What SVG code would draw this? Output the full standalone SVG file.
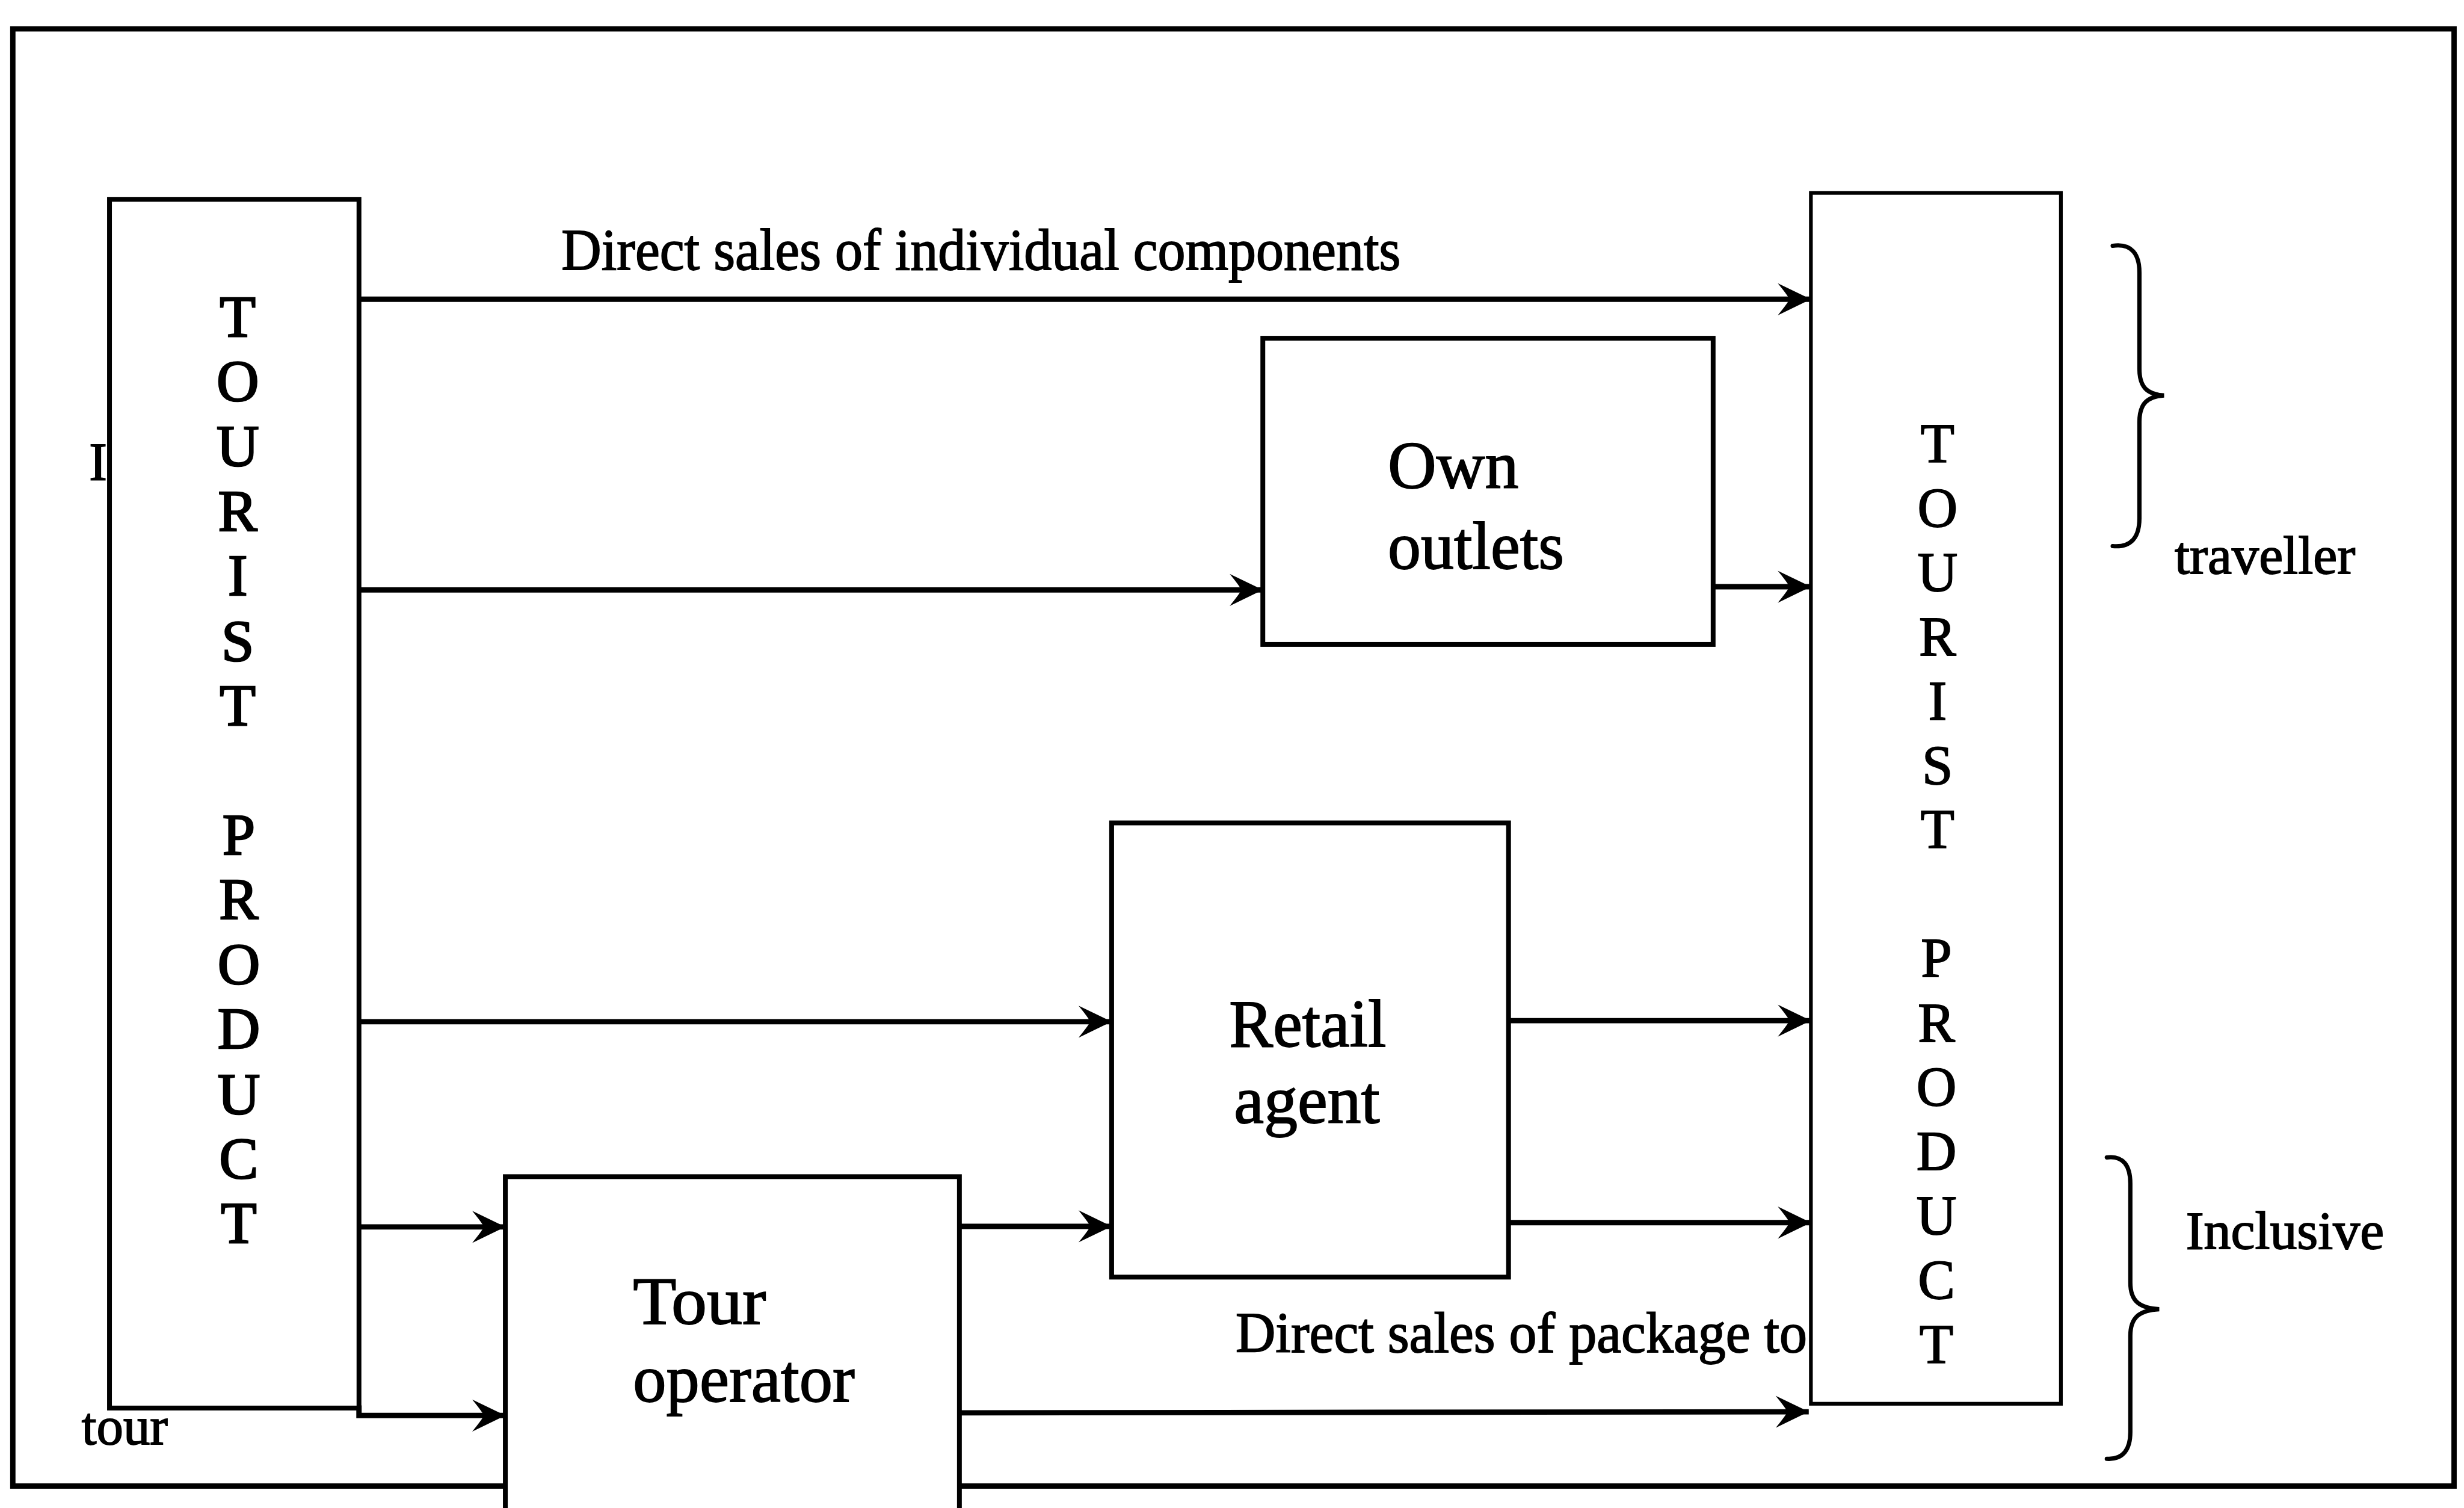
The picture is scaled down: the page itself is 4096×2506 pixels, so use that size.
<svg xmlns="http://www.w3.org/2000/svg" width="4096" height="2506" viewBox="0 0 4096 2506">
<style>
.box{fill:#fff;stroke:#000;stroke-width:9}
.thin{fill:#fff;stroke:#000;stroke-width:7}
.con{fill:none;stroke:#000;stroke-width:10}
.brace{fill:none;stroke:#000;stroke-width:8;stroke-linecap:round}
text{font-family:"Liberation Serif","Times New Roman",serif;fill:#000;stroke:#000;stroke-width:2}
.vl{font-size:110px;text-anchor:middle;stroke-width:3}
.vr{font-size:104px;text-anchor:middle}
.lab{font-size:126px}
.sm{font-size:100px}
</style>
<defs>
<marker id="ah" viewBox="-66 -34 70 68" refX="0" refY="0" markerWidth="70" markerHeight="68" markerUnits="userSpaceOnUse" orient="auto">
<path d="M0,0 L-62,-30 Q-44,-8 -40,0 Q-44,8 -62,30 Z" fill="#000"/>
</marker>
</defs>
<rect width="4096" height="2506" fill="#fff"/>
<g transform="scale(0.888)">
<rect id="frame" x="24" y="54" width="4570" height="2727" fill="none" stroke="#000" stroke-width="10"/>
<g id="connectors">
<path class="con" marker-end="url(#ah)" d="M672,560 L3390,560"/>
<path class="con" marker-end="url(#ah)" d="M672,1104 L2364,1104"/>
<path class="con" marker-end="url(#ah)" d="M3207,1098 L3390,1098"/>
<path class="con" marker-end="url(#ah)" d="M672,1912 L2081,1912"/>
<path class="con" marker-end="url(#ah)" d="M2824,1910 L3390,1910"/>
<path class="con" marker-end="url(#ah)" d="M672,2296 L946,2296"/>
<path class="con" marker-end="url(#ah)" d="M1796,2295 L2081,2295"/>
<path class="con" marker-end="url(#ah)" d="M2824,2288 L3390,2288"/>
<path class="con" marker-end="url(#ah)" d="M672,2630 L672,2649 L946,2649"/>
<path class="con" marker-end="url(#ah)" d="M1796,2644 L3386,2642"/>
</g>
<g id="left-product">
<rect class="box" x="205" y="373" width="467" height="2262"/>
<text class="vl" x="445" y="629">T</text>
<text class="vl" x="445" y="750">O</text>
<text class="vl" x="445" y="872">U</text>
<text class="vl" x="445" y="993">R</text>
<text class="vl" x="445" y="1114">I</text>
<text class="vl" x="445" y="1236">S</text>
<text class="vl" x="445" y="1357">T</text>
<text class="vl" x="447" y="1599">P</text>
<text class="vl" x="447" y="1720">R</text>
<text class="vl" x="447" y="1841">O</text>
<text class="vl" x="447" y="1962">D</text>
<text class="vl" x="447" y="2084">U</text>
<text class="vl" x="447" y="2205">C</text>
<text class="vl" x="447" y="2326">T</text>
</g>
<g id="own-outlets">
<rect class="box" x="2364" y="633" width="843" height="573"/>
<text class="lab" x="2598" y="913">Own</text>
<text class="lab" x="2598" y="1064" textLength="330" lengthAdjust="spacingAndGlyphs">outlets</text>
</g>
<g id="retail-agent">
<rect class="box" x="2081" y="1540" width="743" height="850"/>
<text class="lab" x="2301" y="1958" textLength="294" lengthAdjust="spacingAndGlyphs">Retail</text>
<text class="lab" x="2310" y="2101" textLength="273" lengthAdjust="spacingAndGlyphs">agent</text>
</g>
<g id="tour-operator">
<rect class="box" x="946" y="2202" width="850" height="700"/>
<text class="lab" x="1185" y="2477" textLength="249" lengthAdjust="spacingAndGlyphs">Tour</text>
<text class="lab" x="1185" y="2623" textLength="415" lengthAdjust="spacingAndGlyphs">operator</text>
</g>
<g id="right-product">
<rect class="thin" x="3390" y="361" width="468" height="2266"/>
<text class="vr" x="3627" y="865">T</text>
<text class="vr" x="3627" y="985">O</text>
<text class="vr" x="3627" y="1106">U</text>
<text class="vr" x="3627" y="1226">R</text>
<text class="vr" x="3627" y="1347">I</text>
<text class="vr" x="3627" y="1467">S</text>
<text class="vr" x="3627" y="1587">T</text>
<text class="vr" x="3625" y="1828">P</text>
<text class="vr" x="3625" y="1949">R</text>
<text class="vr" x="3625" y="2069">O</text>
<text class="vr" x="3625" y="2189">D</text>
<text class="vr" x="3625" y="2310">U</text>
<text class="vr" x="3625" y="2430">C</text>
<text class="vr" x="3625" y="2551">T</text>
</g>
<g id="labels">
<text x="1051" y="505" font-size="110" textLength="1571" lengthAdjust="spacingAndGlyphs">Direct sales of individual components</text>
<text x="2313" y="2530" font-size="108" textLength="1070" lengthAdjust="spacingAndGlyphs">Direct sales of package to</text>
<text class="sm" x="167" y="897">I</text>
<text class="sm" x="153" y="2703">tour</text>
<text class="sm" x="4071" y="1073" textLength="338" lengthAdjust="spacingAndGlyphs">traveller</text>
<text class="sm" x="4092" y="2337" textLength="371" lengthAdjust="spacingAndGlyphs">Inclusive</text>
</g>
<g id="braces">
<path class="brace" d="M3955,460 C3990,455 4005,475 4005,510 L4005,690 C4005,725 4020,738 4051,740 C4020,742 4005,755 4005,790 L4005,970 C4005,1005 3990,1025 3955,1022"/>
<path class="brace" d="M3944,2166 C3975,2162 3988,2182 3988,2215 L3988,2400 C3988,2435 4005,2448 4042,2450 C4005,2452 3988,2465 3988,2500 L3988,2680 C3988,2712 3975,2732 3944,2730"/>
</g>
</g>
</svg>
